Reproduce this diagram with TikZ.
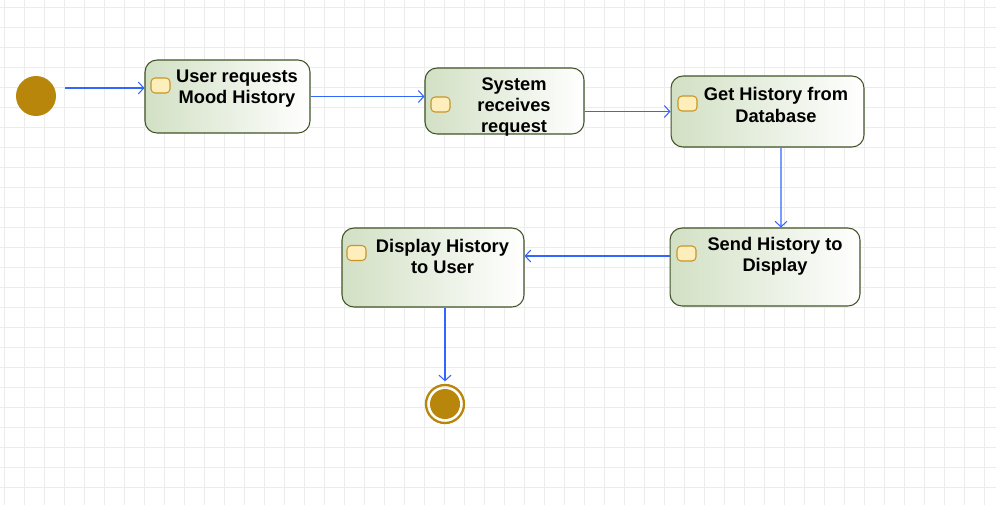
\documentclass[tikz,border=0pt]{standalone}
\usepackage{fontspec}
\setmainfont{Liberation Sans}
\usetikzlibrary{arrows.meta,calc}
\definecolor{gold}{RGB}{184,134,11}
\definecolor{flowblue}{RGB}{51,102,255}
\definecolor{boxedge}{RGB}{64,84,40}
\definecolor{leaf}{RGB}{210,224,196}
\definecolor{tagfill}{RGB}{253,238,187}
\definecolor{tagedge}{RGB}{200,150,40}
\definecolor{gridgray}{RGB}{236,236,236}
\tikzset{
  activity/.style={draw=boxedge,line width=0.6pt,rounded corners=0.24cm,left color=leaf,right color=white,inner sep=0pt},
  tag/.style={draw=tagedge,line width=0.6pt,fill=tagfill,rounded corners=0.08cm,minimum width=0.38cm,minimum height=0.30cm,inner sep=0pt},
  caption/.style={align=center,font=\fontsize{10.4}{12}\selectfont\bfseries,inner sep=0pt},
  flow/.style={draw=flowblue,line width=0.6pt,-{Straight Barb[length=1.1mm,width=2.4mm]}},
}
\begin{document}
\begin{tikzpicture}[x=0.02cm,y=-0.02cm]
\useasboundingbox[fill=white](0,0)rectangle(996,505);
% background grid
\foreach \i in {0,...,49}
  \draw[gridgray,line width=0.5pt](4+20*\i,0)--(4+20*\i,505);
\foreach \j in {0,...,24}
  \draw[gridgray,line width=0.5pt](0,7+20*\j)--(996,7+20*\j);
% start and end
\node[circle,fill=gold,minimum size=0.8cm,inner sep=0pt](init)at(36,96){};
\node[circle,draw=gold,line width=1.3pt,minimum size=0.76cm,inner sep=0pt](fin)at(445,404){};
\node[circle,fill=gold,minimum size=0.6cm,inner sep=0pt](finDot)at(fin.center){};
% activities
\node[activity,minimum width=3.30cm,minimum height=1.46cm](A)at(227.5,96.5){};
\node[activity,minimum width=3.18cm,minimum height=1.32cm](B)at(504.5,101){};
\node[activity,minimum width=3.86cm,minimum height=1.42cm](C)at(767.5,111.5){};
\node[activity,minimum width=3.80cm,minimum height=1.56cm](D)at(765,267){};
\node[activity,minimum width=3.64cm,minimum height=1.58cm](E)at(433,267.5){};
\foreach \n/\x/\y in {tA/160.5/85.5,tB/440.5/104.5,tC/687.5/103.5,tD/686.5/253.5,tE/356.5/253}
  \node[tag](\n)at(\x,\y){};
\node[caption](lA)at(237,89){User requests\\Mood History};
\node[caption](lB)at(514,107){System\\receives\\request};
\node[caption](lC)at(776,105){Get History from\\Database};
\node[caption](lD)at(775,256){Send History to\\Display};
\node[caption](lE)at(442.5,256){Display History\\to User};
% control flow
\draw[flow]($(init.east)+(9,-8)$)--($(A.west)+(0,-8.5)$);
\draw[flow](A.east)--(A.east-|B.west);
\draw[flow](C.west-|B.east)--(C.west);
\draw[flow]($(C.south)+(13.5,0)$)--($(D.north)+(16,0)$);
\draw[flow]($(D.west)+(0,-11)$)--($(E.east)+(0,-11.5)$);
\draw[flow,shorten >=0.05cm](fin.north|-E.south)--(fin.north);
\end{tikzpicture}
\end{document}
